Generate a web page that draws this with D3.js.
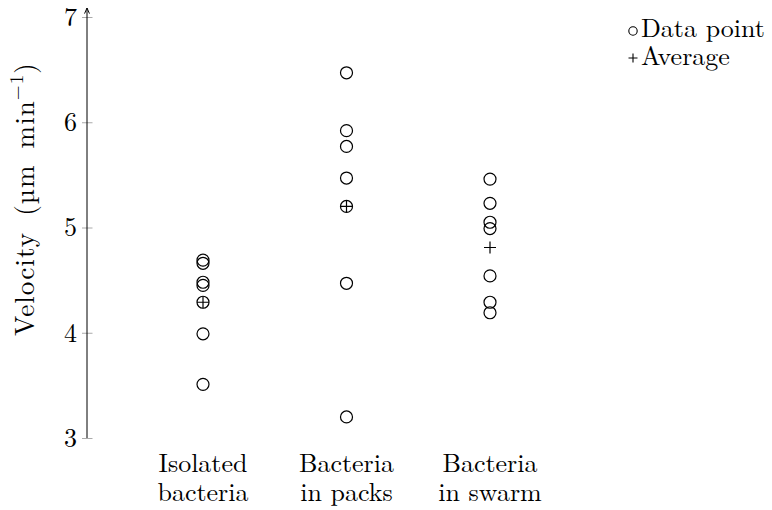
<!DOCTYPE html>
<html><head><meta charset="utf-8">
<script src="https://cdn.jsdelivr.net/npm/d3@7"></script>
<style>body{margin:0;background:#fff}text{font-family:"Latin Modern Roman","CMU Serif","Liberation Serif",serif;fill:#000}</style>
</head><body>
<svg id="c" width="772" height="510"></svg>
<script>
const categories = [["Isolated","bacteria"],["Bacteria","in packs"],["Bacteria","in swarm"]];
const isolated = [4.69, 4.66, 4.48, 4.45, 4.29, 3.99, 3.51];
const packs = [6.47, 5.92, 5.77, 5.47, 5.20, 4.47, 3.20];
const swarm = [5.46, 5.23, 5.05, 4.99, 4.54, 4.29, 4.19];
const averages = [4.29, 5.20, 4.81];
const yTicks = [3, 4, 5, 6, 7];

const svg = d3.select("#c");
const x = d3.scalePoint().domain([0,1,2]).range([203, 490]);
const y = d3.scaleLinear().domain([3,7]).range([438, 17]);
const axX = 87;
const fs = 26;

svg.append("defs").append("marker").attr("id","arr").attr("viewBox","0 0 10 10")
  .attr("refX",9).attr("refY",5).attr("markerWidth",7).attr("markerHeight",7).attr("orient","auto")
  .append("path").attr("d","M1,1.5 L9,5 L1,8.5").attr("fill","none").attr("stroke","#000").attr("stroke-width",1.4);

const yAxis = d3.axisLeft(y).tickValues(yTicks).tickSize(0).tickPadding(10).tickFormat(d3.format("d"));
const ga = svg.append("g").attr("transform",`translate(${axX},0)`).call(yAxis);
ga.select(".domain").remove();
ga.selectAll(".tick text").attr("font-size",fs).attr("font-family",null).attr("fill","#000");
ga.selectAll(".tick").append("line").attr("x1",-5).attr("x2",5.5).attr("stroke","#aaa").attr("stroke-width",1);
svg.append("line").attr("x1",axX).attr("x2",axX).attr("y1",y(3)).attr("y2",8)
  .attr("stroke","#000").attr("stroke-width",1).attr("marker-end","url(#arr)");

// y label
const yl = svg.append("text").attr("transform",`translate(34,199) rotate(-90)`).attr("text-anchor","middle")
  .attr("font-size",27).attr("word-spacing",6).attr("letter-spacing",1.1);
yl.append("tspan").text("Velocity (µm min");
yl.append("tspan").attr("dy",-11).attr("font-size",19).text("−1");
yl.append("tspan").attr("dy",11).text(")");

// x labels
categories.forEach((c,i)=>{
  svg.append("text").attr("text-anchor","middle").attr("font-size",fs).attr("x",x(i)).attr("y",472).text(c[0]);
  svg.append("text").attr("text-anchor","middle").attr("font-size",fs).attr("x",x(i)).attr("y",501).text(c[1]);
});

const series = [isolated, packs, swarm];
series.forEach((vals,i)=>{
  svg.append("g").selectAll("circle").data(vals).join("circle")
    .attr("cx",x(i)).attr("cy",d=>y(d)).attr("r",6)
    .attr("fill","none").attr("stroke","#000").attr("stroke-width",1.2);
});
svg.append("g").selectAll("path").data(averages).join("path")
  .attr("d",(d,i)=>`M${x(i)-6},${y(d)}H${x(i)+6}M${x(i)},${y(d)-6}V${y(d)+6}`)
  .attr("stroke","#000").attr("stroke-width",1.2).attr("fill","none");

// legend
svg.append("circle").attr("cx",633).attr("cy",31).attr("r",4.2).attr("fill","none").attr("stroke","#000").attr("stroke-width",1.1);
svg.append("text").attr("x",641).attr("y",37).attr("font-size",fs).text("Data point");
svg.append("path").attr("d","M628.5,58H637.5M633,53.5V62.5").attr("stroke","#000").attr("stroke-width",1.1);
svg.append("text").attr("x",641).attr("y",65).attr("font-size",fs).text("Average");
</script>
</body></html>
